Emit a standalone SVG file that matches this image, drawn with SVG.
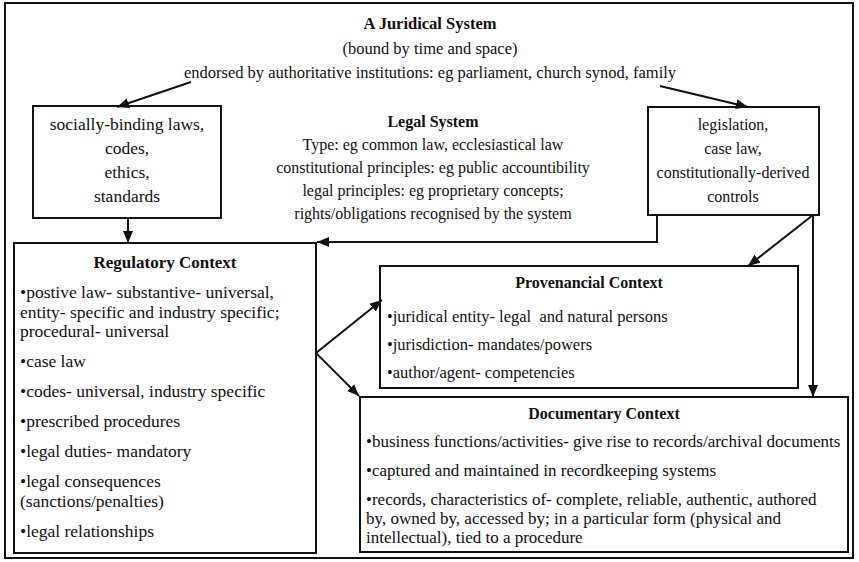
<svg xmlns="http://www.w3.org/2000/svg" width="859" height="562" viewBox="0 0 859 562">
<style>
text{font-family:"Liberation Serif","Times New Roman",serif;font-size:16px;fill:#111}
.b{font-weight:bold}
.c{text-anchor:middle}
.top{font-size:16.5px}
.lb{font-size:17.5px}
.reg{font-size:17.5px}
.prov{font-size:16.5px}
.doc{font-size:17px}
.pre{white-space:pre}
.box{fill:none;stroke:#111;stroke-width:2}
.ln{fill:none;stroke:#111;stroke-width:2}
</style>
<defs>
<marker id="ah" viewBox="0 0 12 10" refX="12" refY="5" markerWidth="12" markerHeight="10" markerUnits="userSpaceOnUse" orient="auto"><path d="M0,0 L12,5 L0,10 z" fill="#111"/></marker>
</defs>
<rect x="0" y="0" width="859" height="562" fill="#fff"/>
<g id="juridical-system">
<rect class="box" x="5" y="3" width="848" height="555"/>
<text class="b c top" x="430" y="29">A Juridical System</text>
<text class="c top" x="430" y="54">(bound by time and space)</text>
<text class="c top" x="430" y="78">endorsed by authoritative institutions: eg parliament, church synod, family</text>
</g>
<g id="social-laws">
<rect class="box" x="33" y="106" width="188" height="112"/>
<text class="c lb" x="127" y="130">socially-binding laws,</text>
<text class="c lb" x="127" y="154">codes,</text>
<text class="c lb" x="127" y="178">ethics,</text>
<text class="c lb" x="127" y="202">standards</text>
</g>
<g id="legal-system">
<text class="b c" x="433" y="127">Legal System</text>
<text class="c" x="433" y="150">Type: eg common law, ecclesiastical law</text>
<text class="c" x="433" y="173">constitutional principles: eg public accountibility</text>
<text class="c" x="433" y="196">legal principles: eg proprietary concepts;</text>
<text class="c" x="433" y="219">rights/obligations recognised by the system</text>
</g>
<g id="legislation">
<rect class="box" x="648" y="107" width="171" height="108"/>
<text class="c" x="733" y="130">legislation,</text>
<text class="c" x="733" y="154">case law,</text>
<text class="c" x="733" y="178">constitutionally-derived</text>
<text class="c" x="733" y="202">controls</text>
</g>
<g id="regulatory-context">
<rect class="box" x="14" y="243" width="302" height="310"/>
<text class="b c" style="font-size:17px" x="165" y="268">Regulatory Context</text>
<text class="reg" x="20" y="298">•postive law- substantive- universal,</text>
<text class="reg" x="20" y="317.5">entity- specific and industry specific;</text>
<text class="reg" x="20" y="337">procedural- universal</text>
<text class="reg" x="20" y="367">•case law</text>
<text class="reg" x="20" y="397">•codes- universal, industry specific</text>
<text class="reg" x="20" y="427">•prescribed procedures</text>
<text class="reg" x="20" y="457">•legal duties- mandatory</text>
<text class="reg" x="20" y="487">•legal consequences</text>
<text class="reg" x="20" y="506.5">(sanctions/penalties)</text>
<text class="reg" x="20" y="536.5">•legal relationships</text>
</g>
<g id="provenancial-context">
<rect class="box" x="380" y="266" width="418" height="122"/>
<text class="b c" x="589" y="288">Provenancial Context</text>
<text class="prov pre" x="387" y="322">•juridical entity- legal  and natural persons</text>
<text class="prov" x="387" y="350">•jurisdiction- mandates/powers</text>
<text class="prov" x="387" y="378">•author/agent- competencies</text>
</g>
<g id="documentary-context">
<rect class="box" x="360" y="397" width="488" height="155"/>
<text class="b c" x="604" y="419">Documentary Context</text>
<text class="doc" x="366" y="447">•business functions/activities- give rise to records/archival documents</text>
<text class="doc" x="366" y="476">•captured and maintained in recordkeeping systems</text>
<text class="doc" x="366" y="504.5">•records, characteristics of- complete, reliable, authentic, authored</text>
<text class="doc" x="366" y="523.5">by, owned by, accessed by; in a particular form (physical and</text>
<text class="doc" x="366" y="542.5">intellectual), tied to a procedure</text>
</g>
<g id="connectors">
<path class="ln" d="M191,82 L117,107" marker-end="url(#ah)"/>
<path class="ln" d="M660,86 L748,107" marker-end="url(#ah)"/>
<path class="ln" d="M128,218 L128,243" marker-end="url(#ah)"/>
<path class="ln" d="M657,215 L657,242 L317,242" marker-end="url(#ah)"/>
<path class="ln" d="M813,215 L748,266" marker-end="url(#ah)"/>
<path class="ln" d="M813,215 L813,397" marker-end="url(#ah)"/>
<path class="ln" d="M316,353 L382,300" marker-end="url(#ah)"/>
<path class="ln" d="M316,353 L359,396" marker-end="url(#ah)"/>
</g>
</svg>
